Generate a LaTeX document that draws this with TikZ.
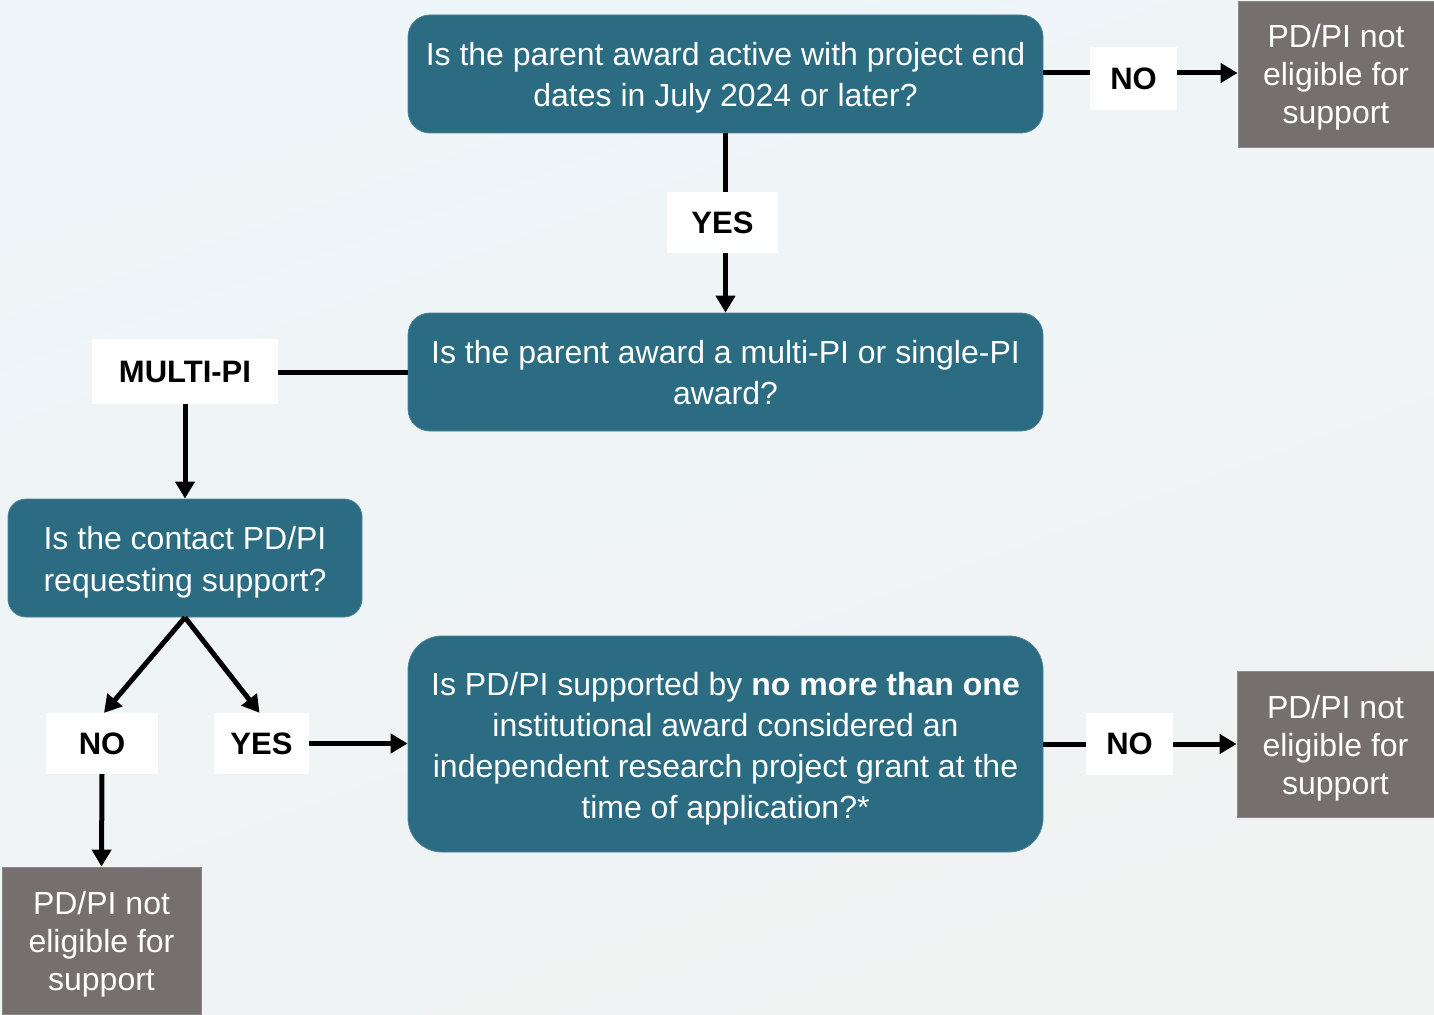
\documentclass[tikz,border=0pt]{standalone}
\usepackage{fontspec}
\setmainfont{Liberation Sans}
\usetikzlibrary{arrows.meta,calc}
\definecolor{teal1}{HTML}{2B6C82}
\definecolor{tealedge}{HTML}{4A8497}
\definecolor{grey1}{HTML}{75706F}
\definecolor{greyedge}{HTML}{8C8887}
\definecolor{bgtop}{HTML}{EEF6F9}
\definecolor{bgbot}{HTML}{F1F2F2}
\tikzset{
  qbox/.style={rectangle, rounded corners=22pt, fill=teal1, draw=tealedge, line width=0.8pt,
    inner sep=0pt},
  qtext/.style={text=white, align=center, inner sep=0pt, font=\fontsize{32}{41}\selectfont},
  gbox/.style={rectangle, fill=grey1, draw=greyedge, line width=0.8pt, inner sep=0pt},
  gtext/.style={text=white, align=center, inner sep=0pt, font=\fontsize{32}{38}\selectfont},
  lbl/.style={rectangle, fill=white, inner sep=0pt, text=black,
    font=\fontsize{31}{37}\selectfont\bfseries},
  conn/.style={line width=5pt, draw=black},
  arr/.style={conn, -{Triangle[length=17pt,width=19pt]}},
}
\begin{document}
\begin{tikzpicture}[x=1pt,y=-1pt]
\useasboundingbox (0,0) rectangle (1434,1014);
\shade[top color=bgtop, bottom color=bgbot, shading angle=20] (0,0) rectangle (1434,1014);
\begin{scope}
\clip (0,0) rectangle (1434,1014);
% question boxes
\node[qbox, minimum width=635pt, minimum height=118pt] (q1) at (725.5,74) {};
\node[qtext] (q1t) at ($(q1)+(0,4)$)
  {Is the parent award active with project end\\dates in July 2024 or later?};
\node[qbox, minimum width=635pt, minimum height=118pt] (q2) at (725.5,372) {};
\node[qtext] (q2t) at ($(q2)+(0,1)$)
  {Is the parent award a multi-PI or single-PI\\award?};
\node[qbox, rounded corners=18pt, minimum width=354pt, minimum height=118pt] (q3) at (185,558) {};
\node[qtext, font=\fontsize{32}{42}\selectfont] (q3t) at ($(q3)+(0,4.5)$)
  {Is the contact PD/PI\\requesting support?};
\node[qbox, rounded corners=34pt, minimum width=635pt, minimum height=216pt] (q4) at (725.5,744) {};
\node[qtext] (q4t) at ($(q4)+(0,4.5)$)
  {Is PD/PI supported by \textbf{no more than one}\\institutional award considered an\\independent research project grant at the\\time of application?*};
% outcome boxes
\node[gbox, minimum width=196pt, minimum height=146pt] (g1) at (1336,74) {};
\node[gtext] (g1t) at ($(g1)+(0,3)$) {PD/PI not\\eligible for\\support};
\node[gbox, minimum width=197pt, minimum height=146pt] (g2) at (1335.5,744) {};
\node[gtext] (g2t) at ($(g2)+(0,4)$) {PD/PI not\\eligible for\\support};
\node[gbox, minimum width=199pt, minimum height=147pt] (g3) at (101.5,940.5) {};
\node[gtext] (g3t) at ($(g3)+(0,4)$) {PD/PI not\\eligible for\\support};
% labels
\node[lbl, minimum width=87pt, minimum height=63pt] (no1) at (1133.5,78.5) {NO};
\node[lbl, minimum width=111pt, minimum height=61pt] (yes1) at (722.5,222.5) {YES};
\node[lbl, minimum width=186pt, minimum height=65pt] (multi) at (185,371.5) {MULTI-PI};
\node[lbl, minimum width=112pt, minimum height=61pt] (no2) at (102,743.5) {NO};
\node[lbl, minimum width=95pt, minimum height=61pt] (yes2) at (261.5,743.5) {YES};
\node[lbl, minimum width=87pt, minimum height=62pt] (no3) at (1129.5,744) {NO};
% connectors
\draw[conn] ($(q1.east)+(0,-1)$) -- ($(q1.east -| no1.west)+(0,-1)$);
\draw[arr] ($(q1.east -| no1.east)+(0,-1)$) -- ($(g1.west)+(0,-1)$);
\draw[conn] (q1.south) -- (yes1.north -| q1.south);
\draw[arr] (yes1.south -| q1.south) -- (q2.north);
\draw[conn] (q2.west) -- (q2.west -| multi.east);
\draw[arr] (multi.south) -- (q3.north);
\draw[arr] (q3.south) -- ($(no2.north)+(2,0)$);
\draw[arr] (q3.south) -- ($(yes2.north)+(-2,0)$);
\draw[arr] (yes2.east) -- (yes2.east -| q4.west);
\draw[conn] (q4.east) -- (q4.east -| no3.west);
\draw[arr] (q4.east -| no3.east) -- (g2.west);
\draw[arr] (no2.south) -- (g3.north);
\end{scope}
\end{tikzpicture}
\end{document}
